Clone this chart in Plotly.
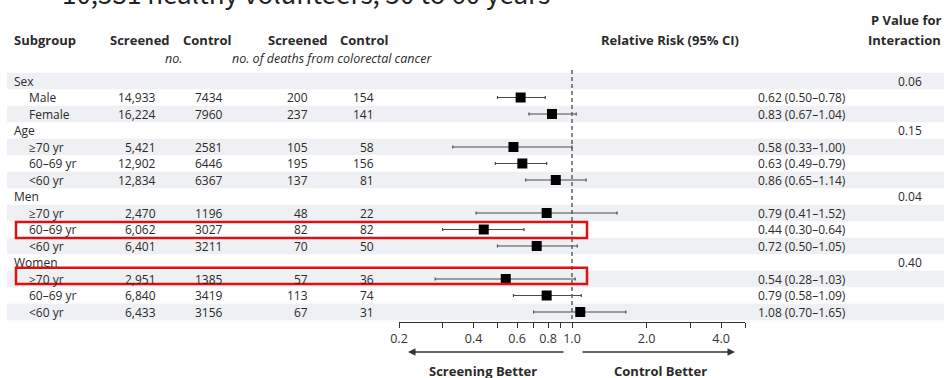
import math
import plotly.graph_objects as go

W, H = 944, 378

# ---------------- data ----------------
labels = ["Sex", "Male", "Female", "Age", "≥70 yr", "60–69 yr", "<60 yr",
          "Men", "≥70 yr", "60–69 yr", "<60 yr",
          "Women", "≥70 yr", "60–69 yr", "<60 yr"]
is_group = [True, False, False, True, False, False, False,
            True, False, False, False, True, False, False, False]
screened_n = ["", "14,933", "16,224", "", "5,421", "12,902", "12,834",
              "", "2,470", "6,062", "6,401", "", "2,951", "6,840", "6,433"]
control_n = ["", "7434", "7960", "", "2581", "6446", "6367",
             "", "1196", "3027", "3211", "", "1385", "3419", "3156"]
screened_deaths = ["", "200", "237", "", "105", "195", "137",
                   "", "48", "82", "70", "", "57", "113", "67"]
control_deaths = ["", "154", "141", "", "58", "156", "81",
                  "", "22", "82", "50", "", "36", "74", "31"]
rr = [None, 0.62, 0.83, None, 0.58, 0.63, 0.86, None, 0.79, 0.44, 0.72,
      None, 0.54, 0.79, 1.08]
rr_lo = [None, 0.50, 0.67, None, 0.33, 0.49, 0.65, None, 0.41, 0.30, 0.50,
         None, 0.28, 0.58, 0.70]
rr_hi = [None, 0.78, 1.04, None, 1.00, 0.79, 1.14, None, 1.52, 0.64, 1.05,
         None, 1.03, 1.09, 1.65]
p_interaction = ["0.06", "", "", "0.15", "", "", "", "0.04", "", "", "",
                 "0.40", "", "", ""]
highlight_rows = [9, 12]

tick_vals = [0.2, 0.3, 0.4, 0.5, 0.6, 0.7, 0.8, 0.9, 1.0, 2.0, 3.0, 4.0, 5.0]
tick_text = ["0.2", "", "0.4", "", "0.6", "", "0.8", "", "1.0", "2.0", "", "4.0", ""]

title_text = "10,531 healthy volunteers, 50 to 60 years"

# ---------------- layout helpers ----------------
ROW0_PX, ROW_PX = 81.0, 16.5


def px(x):
    return x / W


def py(y):
    return 1 - y / H


FONT = "Open Sans"
FS = 12
FS_B = 13
TXT = "#2a2a2a"

rows = list(range(len(labels)))
pts = [i for i in rows if rr[i] is not None]

fig = go.Figure()
fig.add_trace(go.Scatter(
    x=[rr[i] for i in pts], y=pts, mode="markers",
    marker=dict(symbol="square", size=10, color="black"),
    error_x=dict(type="data", symmetric=False,
                 array=[rr_hi[i] - rr[i] for i in pts],
                 arrayminus=[rr[i] - rr_lo[i] for i in pts],
                 color="#4a4a4a", thickness=1.2, width=1.5),
    hoverinfo="skip", showlegend=False))

shapes = []
for i in rows:
    if i % 2 == 0:
        shapes.append(dict(type="rect", xref="paper", yref="y",
                           x0=px(7), x1=1.0, y0=i - 0.5, y1=i + 0.5,
                           fillcolor="#eff0f3", line=dict(width=0), layer="below"))
shapes.append(dict(type="line", xref="x", yref="y", x0=1.0, x1=1.0,
                   y0=-0.67, y1=(322 - ROW0_PX) / ROW_PX,
                   line=dict(color="#555555", width=1.4, dash="4px,3px"), layer="above"))
offsets = {9: (-0.45, 0.52), 12: (-0.68, 0.3)}
for i in highlight_rows:
    a, b = offsets[i]
    shapes.append(dict(type="rect", xref="paper", yref="y",
                       x0=px(16), x1=px(587), y0=i + a, y1=i + b,
                       line=dict(color="#e01010", width=2.5),
                       fillcolor="rgba(0,0,0,0)", layer="above"))

ann = []


def add_row_text(text, xpx, row, anchor, size=FS):
    if not text:
        return
    ann.append(dict(text=text, xref="paper", yref="y", x=px(xpx), y=row,
                    xanchor=anchor, yanchor="middle", showarrow=False,
                    font=dict(family=FONT, size=size, color=TXT)))


def add_px_text(text, xpx, ypx, anchor, bold=False, italic=False, size=FS, color=TXT, family=FONT):
    t = f"<b>{text}</b>" if bold else text
    t = f"<i>{t}</i>" if italic else t
    ann.append(dict(text=t, xref="paper", yref="paper", x=px(xpx), y=py(ypx),
                    xanchor=anchor, yanchor="middle", showarrow=False,
                    font=dict(family=family, size=size, color=color)))


for i in rows:
    add_row_text(labels[i], 12 if is_group[i] else 27, i, "left")
    add_row_text(screened_n[i], 158, i, "right")
    add_row_text(control_n[i], 193, i, "left")
    add_row_text(screened_deaths[i], 310, i, "right")
    add_row_text(control_deaths[i], 376, i, "right")
    if rr[i] is not None:
        ci = f"{rr[i]:.2f} ({rr_lo[i]:.2f}–{rr_hi[i]:.2f})"
        add_row_text(ci, 756, i, "left")
    add_row_text(p_interaction[i], 910, i, "center")

add_px_text("Subgroup", 12, 40, "left", bold=True, size=FS_B)
add_px_text("Screened", 140, 40, "center", bold=True, size=FS_B)
add_px_text("Control", 207, 40, "center", bold=True, size=FS_B)
add_px_text("Screened", 298, 40, "center", bold=True, size=FS_B)
add_px_text("Control", 364, 40, "center", bold=True, size=FS_B)
add_px_text("no.", 173, 59, "center", italic=True, size=12.5)
add_px_text("no. of deaths from colorectal cancer", 332, 59, "center", italic=True, size=12.5)
add_px_text("Relative Risk (95% CI)", 670, 40, "center", bold=True, size=FS_B)
add_px_text("P Value for", 943, 20, "right", bold=True, size=FS_B)
add_px_text("Interaction", 943, 40, "right", bold=True, size=FS_B)

add_px_text(title_text, 60, -7, "left", size=26, color="#222222", family="Noto Sans CJK KR")

ann.append(dict(xref="paper", yref="paper", x=px(408), y=py(352), ax=157, ay=0,
                text="", showarrow=True, arrowhead=2, arrowsize=1, arrowwidth=1.5,
                arrowcolor="#333333"))
ann.append(dict(xref="paper", yref="paper", x=px(735), y=py(352), ax=-154, ay=0,
                text="", showarrow=True, arrowhead=2, arrowsize=1, arrowwidth=1.5,
                arrowcolor="#333333"))
add_px_text("Screening Better", 483, 371, "center", bold=True, size=FS_B)
add_px_text("Control Better", 660, 371, "center", bold=True, size=FS_B)

fig.update_layout(
    width=W, height=H, autosize=False,
    margin=dict(l=0, r=0, t=0, b=0, pad=0),
    paper_bgcolor="white", plot_bgcolor="rgba(0,0,0,0)",
    shapes=shapes, annotations=ann,
    xaxis=dict(type="log", range=[math.log10(0.2), math.log10(5.0)],
               domain=[px(399), px(745)], anchor="free", position=py(322),
               tickvals=tick_vals, ticktext=tick_text, ticks="outside",
               ticklen=5, tickwidth=1, tickcolor="#333333",
               showline=True, linecolor="#333333", linewidth=1,
               showgrid=False, zeroline=False, automargin=False,
               tickfont=dict(family=FONT, size=12.5, color="#333333")),
    yaxis=dict(range=[(H - ROW0_PX) / ROW_PX, -ROW0_PX / ROW_PX],
               domain=[0, 1], visible=False, showgrid=False, zeroline=False,
               automargin=False),
)

fig.write_html(
    "out.html",
    config={"responsive": False, "displayModeBar": False},
    default_width="944px", default_height="378px",
    post_script="document.body.style.margin='0';document.body.style.padding='0';"
                "document.body.style.overflow='hidden';"
                "document.documentElement.style.overflow='hidden';",
)
